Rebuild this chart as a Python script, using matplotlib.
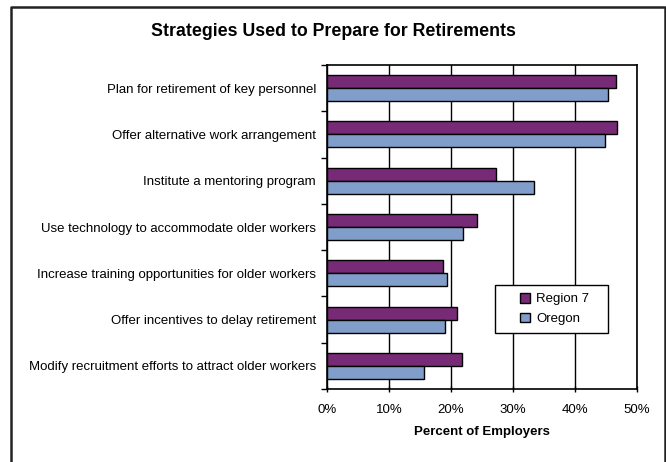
import matplotlib
matplotlib.use("Agg")
import matplotlib.pyplot as plt
import numpy as np
from matplotlib.patches import Rectangle
from matplotlib.lines import Line2D

categories = [
    "Plan for retirement of key personnel",
    "Offer alternative work arrangement",
    "Institute a mentoring program",
    "Use technology to accommodate older workers",
    "Increase training opportunities for older workers",
    "Offer incentives to delay retirement",
    "Modify recruitment efforts to attract older workers",
]
region7 = [46.6, 46.8, 27.3, 24.2, 18.7, 21.0, 21.8]
oregon = [45.4, 44.9, 33.4, 22.0, 19.4, 19.0, 15.6]
xticks = [0, 10, 20, 30, 40, 50]

plt.rcParams['font.family'] = ['Liberation Sans', 'DejaVu Sans']
FS = 9.5

W, H = 666, 462
fig = plt.figure(figsize=(W/100, H/100), dpi=100)
AX_L, AX_R, AX_T, AX_B = 327, 637, 65, 389
ax = fig.add_axes([AX_L/W, 1-AX_B/H, (AX_R-AX_L)/W, (AX_B-AX_T)/H])

n = len(categories)
y = np.arange(n)
bh = 0.28
ax.barh(y - bh/2, region7, height=bh, color='#772B77', edgecolor='black', linewidth=1.0, label='Region 7', zorder=3)
ax.barh(y + bh/2, oregon, height=bh, color='#819DC9', edgecolor='black', linewidth=1.0, label='Oregon', zorder=3)

ax.set_xlim(0, 50)
ax.set_ylim(n - 0.5, -0.5)
ax.set_xticks(xticks)
ax.set_xticklabels([f"{v}%" for v in xticks], fontsize=FS)
ax.xaxis.grid(True, color='black', linewidth=1.0, zorder=0)
ax.set_yticks(y)
ax.set_yticklabels(categories, fontsize=FS)
ax.tick_params(axis='y', length=0, pad=8)
ax.set_yticks(np.arange(-0.5, n + 0.5, 1), minor=True)
ax.tick_params(axis='y', which='minor', length=4, width=1, direction='out')
ax.tick_params(axis='x', length=4, width=1, direction='inout', pad=9)
for s in ax.spines.values():
    s.set_linewidth(1.2)
ax.set_xlabel("Percent of Employers", fontsize=FS, fontweight='bold', labelpad=7)

# legend box
def ax_frac_x(px):
    return (px - AX_L) / (AX_R - AX_L)

def ax_frac_y(py):
    return 1 - (py - AX_T) / (AX_B - AX_T)

box = Rectangle((ax_frac_x(495), ax_frac_y(333)), ax_frac_x(608) - ax_frac_x(495),
                ax_frac_y(285) - ax_frac_y(333), transform=ax.transAxes,
                facecolor='white', edgecolor='black', linewidth=1.0, zorder=5)
ax.add_patch(box)
leg = ax.legend(loc='center left', bbox_to_anchor=(ax_frac_x(520), ax_frac_y(309)),
                fontsize=FS, frameon=False,
                handlelength=0.75, handleheight=0.75, borderpad=0, labelspacing=0.55,
                handletextpad=0.5, borderaxespad=0)
leg.set_zorder(6)

fig.text(0.5, 1-32/H, "Strategies Used to Prepare for Retirements", ha='center', va='center',
         fontsize=12.8, fontweight='bold')

# figure frame (left, top, right)
fig.lines.append(Line2D([11/W, 11/W, 665/W, 665/W], [0, 1-6.5/H, 1-6.5/H, 0],
                        transform=fig.transFigure, color='#222222', linewidth=1.8))

fig.savefig("out.png", dpi=100)
